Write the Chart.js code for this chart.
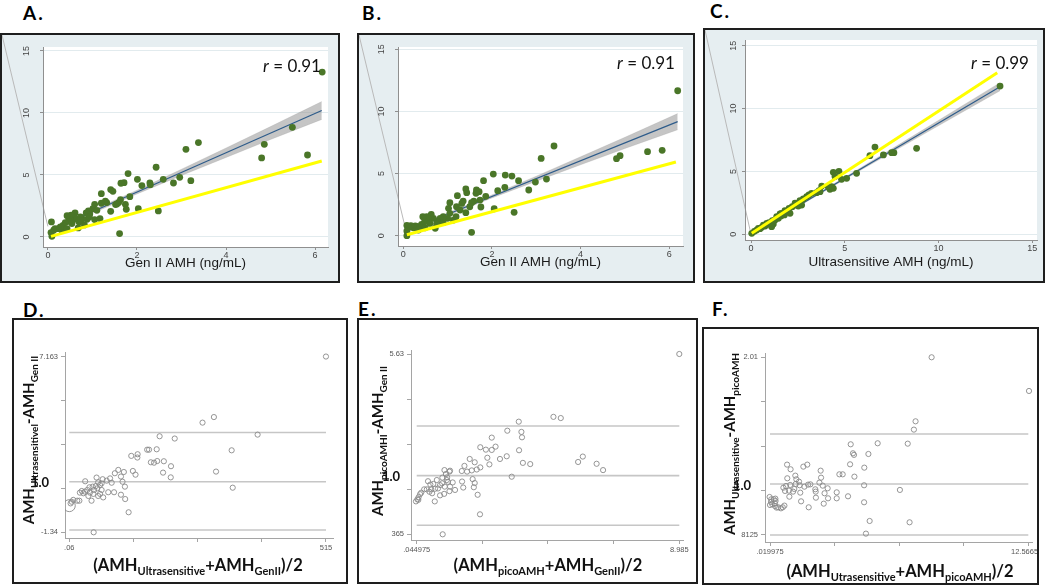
<!DOCTYPE html>
<html>
<head>
<meta charset="utf-8">
<script src="https://cdn.jsdelivr.net/npm/chart.js@4.4.0/dist/chart.umd.min.js"></script>
<style>
body { margin: 0; width: 1050px; height: 585px; position: relative; overflow: hidden; background: #fff; }
.frame { position: absolute; border: 2px solid #1e1e1e; box-sizing: border-box; }
.frame canvas { position: absolute; left: 0; top: 0; }
.lbl { position: absolute; white-space: nowrap; transform: translate(-50%, -50%); color: #111; }
.letter { position: absolute; font: bold 19px Lato, sans-serif; line-height: 1; letter-spacing: 2px; color: #000; }
.rr { font: 17px Lato, sans-serif; }
.ttl { font: bold 16.5px Lato, sans-serif; }
.ttl sub { font-size: 11px; vertical-align: -4px; line-height: 0; }
.yt { font-size: 15px; transform: translate(-50%, -50%) rotate(-90deg); }
.yt sub { font-size: 10px; }
.one { font: bold 13px Lato, sans-serif; }
</style>
</head>
<body>

<div class="letter" style="left:23px;top:3px">A.</div>
<div class="letter" style="left:362px;top:3px">B.</div>
<div class="letter" style="left:710px;top:1px">C.</div>
<div class="letter" style="left:23px;top:300px">D.</div>
<div class="letter" style="left:358px;top:299px">E.</div>
<div class="letter" style="left:712px;top:299px">F.</div>

<div class="frame" style="left:0;top:33px;width:340px;height:250px"><canvas id="cA" width="336" height="246"></canvas></div>
<div class="frame" style="left:357px;top:33px;width:338px;height:250px"><canvas id="cB" width="334" height="246"></canvas></div>
<div class="frame" style="left:703px;top:28px;width:342px;height:255px"><canvas id="cC" width="338" height="251"></canvas></div>
<div class="frame" style="left:12px;top:318px;width:336px;height:266px"><canvas id="cD" width="332" height="262"></canvas></div>
<div class="frame" style="left:357px;top:318px;width:341px;height:266px"><canvas id="cE" width="337" height="262"></canvas></div>
<div class="frame" style="left:702px;top:327px;width:337px;height:258px"><canvas id="cF" width="333" height="254"></canvas></div>

<div class="lbl rr" style="left:292px;top:65px"><i>r</i> = 0.91</div>
<div class="lbl rr" style="left:646px;top:62px"><i>r</i> = 0.91</div>
<div class="lbl rr" style="left:1000px;top:62px"><i>r</i> = 0.99</div>

<div class="lbl ttl yt" style="left:28px;top:440px">AMH<sub>Ultrasensitivel</sub>-AMH<sub>Gen II</sub></div>
<div class="lbl ttl yt" style="left:377px;top:441px">AMH<sub>picoAMHI</sub>-AMH<sub>Gen II</sub></div>
<div class="lbl ttl yt" style="left:729px;top:444px">AMH<sub>Ultrasensitive</sub>-AMH<sub>picoAMH</sub></div>
<div class="lbl ttl" style="left:198px;top:565px">(AMH<sub>Ultrasensitive</sub>+AMH<sub>GenII</sub>)/2</div>
<div class="lbl ttl" style="left:548px;top:565px">(AMH<sub>picoAMH</sub>+AMH<sub>GenII</sub>)/2</div>
<div class="lbl ttl" style="left:900px;top:571px">(AMH<sub>Utrasensitive</sub>+AMH<sub>picoAMH</sub>)/2</div>
<div class="lbl one" style="left:40px;top:482px">1.0</div>
<div class="lbl one" style="left:391px;top:476px">1.0</div>
<div class="lbl one" style="left:742px;top:485px">1.0</div>

<script>
// ---- A: Gen II (x) vs Ultrasensitive (y)
var aX = [6.16, 5.49, 5.83, 4.86, 4.80, 3.38, 3.10, 3.21, 2.96, 2.82, 2.59, 2.43, 2.48, 2.29, 2.30, 2.11, 2.01, 2.03, 1.80, 1.71, 1.64, 1.84, 1.74, 1.76, 1.63, 1.59, 1.55, 1.52, 1.61, 1.41, 1.46, 1.41, 1.32, 1.29, 1.20, 1.20, 1.17, 1.05, 1.01, 1.05, 0.94, 0.91, 0.86, 0.82, 0.88, 0.77, 0.73, 0.70, 0.68, 0.64, 0.61, 0.57, 0.52, 0.50, 0.43, 0.46, 0.39, 0.34, 0.31, 0.28, 0.24, 0.16, 0.13, 0.08, 0.07, 0.09, 0.43, 0.54, 0.73, 0.93, 1.10];
var aY = [13.3, 8.84, 6.61, 7.47, 6.37, 7.61, 7.07, 4.54, 4.81, 4.35, 4.65, 5.62, 2.10, 4.35, 4.22, 4.14, 4.65, 2.28, 5.11, 4.38, 4.33, 3.25, 2.63, 2.23, 3.01, 2.77, 2.66, 2.61, 0.27, 3.82, 3.68, 2.07, 2.77, 2.88, 3.49, 2.72, 1.48, 2.63, 2.28, 1.40, 1.85, 2.10, 1.94, 0.97, 1.42, 1.45, 1.61, 1.21, 0.73, 1.42, 1.94, 1.61, 1.75, 1.40, 1.72, 1.26, 1.16, 0.94, 0.54, 0.81, 0.67, 0.67, 0.54, 1.21, 0.35, 0.05, 0.67, 1.08, 1.34, 1.61, 2.15];
var aFitX = [0.07, 6.15];
var aFitY = [0.56, 10.2];
var aBandX = [0.07, 1, 2, 3, 4, 5, 6.15];
var aBandHi = [0.71, 2.15, 3.77, 5.46, 7.17, 8.90, 10.92];
var aBandLo = [0.41, 1.91, 3.47, 4.96, 6.41, 7.86, 9.48];
var aIdX = [0.07, 6.15];
var aIdY = [0.05, 6.13];

// ---- B: Gen II (x) vs picoAMH (y)
var bX = [6.19, 5.84, 5.51, 4.89, 4.81, 3.40, 3.11, 3.23, 2.98, 2.83, 2.60, 2.45, 2.30, 2.29, 2.50, 2.13, 2.03, 2.05, 1.86, 1.81, 1.75, 1.71, 1.65, 1.64, 1.73, 1.59, 1.54, 1.43, 1.41, 1.41, 1.35, 1.32, 1.22, 1.20, 1.19, 1.05, 1.02, 1.05, 1.00, 0.90, 0.83, 0.77, 0.72, 0.68, 0.63, 0.57, 0.53, 0.48, 0.44, 0.41, 0.38, 0.32, 0.27, 0.23, 0.17, 0.12, 0.08, 0.08, 0.08, 1.54, 0.60, 0.75, 0.49, 0.90, 1.13, 1.28, 1.50, 0.34];
var bY = [11.67, 6.87, 6.76, 6.44, 6.20, 7.22, 6.22, 4.56, 4.32, 3.68, 4.43, 4.80, 4.88, 3.89, 1.88, 3.62, 4.96, 2.17, 3.17, 4.43, 2.31, 3.54, 3.68, 3.41, 2.87, 2.79, 2.66, 3.46, 3.76, 1.85, 2.79, 2.60, 3.22, 2.33, 1.53, 2.66, 2.20, 1.80, 1.40, 1.53, 1.40, 1.13, 0.59, 1.40, 1.72, 1.26, 1.53, 1.13, 1.53, 0.91, 0.72, 0.72, 0.78, 0.64, 0.80, 0.67, 0.83, 0.38, 0.0, 0.27, 0.99, 0.94, 0.64, 1.05, 1.26, 2.07, 2.33, 0.46];
var bFitX = [0.08, 6.19];
var bFitY = [0.40, 9.18];
var bBandX = [0.08, 1, 2, 3, 4, 5, 6.19];
var bBandHi = [0.55, 1.82, 3.28, 4.79, 6.35, 7.92, 9.83];
var bBandLo = [0.25, 1.62, 3.04, 4.39, 5.71, 7.02, 8.53];
var bIdX = [0.08, 6.15];
var bIdY = [0.08, 5.93];

// ---- C: Ultrasensitive (x) vs picoAMH (y)
var cX = [13.28, 8.83, 7.62, 7.50, 7.06, 6.61, 6.34, 5.63, 5.10, 4.83, 4.69, 4.39, 4.48, 4.30, 4.21, 4.39, 4.12, 3.77, 3.63, 3.50, 3.23, 2.79, 2.61, 2.70, 2.52, 2.20, 2.08, 1.81, 1.78, 1.60, 1.46, 1.28, 1.19, 1.07, 0.96, 0.84, 0.75, 0.57, 0.48, 0.30, 0.18, 0.04, 2.03, 1.63, 1.37, 1.14, 0.66, 0.39, 2.97, 2.35, 1.10, 1.55, 3.68, 3.09];
var cY = [11.79, 6.84, 6.49, 6.49, 6.31, 6.94, 6.25, 4.85, 4.45, 4.37, 5.01, 4.93, 4.59, 3.79, 3.58, 3.66, 3.79, 3.84, 3.47, 3.31, 3.26, 2.81, 2.68, 2.33, 2.25, 2.20, 1.67, 1.88, 1.54, 1.46, 1.27, 1.14, 0.82, 0.74, 0.93, 0.87, 0.66, 0.56, 0.45, 0.34, 0.24, 0.08, 2.07, 1.67, 1.40, 1.09, 0.74, 0.48, 3.00, 2.47, 0.61, 1.62, 3.39, 3.13];
var cFitX = [0.04, 13.28];
var cFitY = [0.08, 11.74];
var cBandX = [0.04, 3, 6, 9, 13.28];
var cBandHi = [0.16, 2.75, 5.43, 8.15, 12.06];
var cBandLo = [0.0, 2.63, 5.23, 7.79, 11.42];
var cIdX = [0.04, 13.13];
var cIdY = [0.08, 12.85];

var abcTicks = [0, 2, 4, 6];
var cXTicks = [0, 5, 10, 15];
var abcYTicks = [0, 5, 10, 15];

// ---- D: Bland-Altman, Ultrasensitive vs Gen II
var dMean = [9.75, 5.52, 5.09, 7.17, 6.19, 5.60, 6.23, 4.04, 3.47, 3.36, 3.07, 3.00, 3.63, 3.38, 3.26, 3.14, 3.90, 3.60, 3.89, 2.64, 2.63, 2.40, 2.46, 2.56, 2.30, 2.17, 2.12, 2.01, 2.07, 2.16, 2.01, 1.91, 1.78, 1.60, 1.66, 1.75, 1.53, 1.47, 1.32, 1.28, 1.15, 1.28, 1.22, 1.12, 1.09, 1.06, 1.00, 0.98, 0.90, 0.84, 0.78, 0.74, 0.66, 0.65, 0.59, 0.53, 0.46, 0.44, 0.36, 0.21, 0.15, 0.11, 0.97, 1.15, 1.34, 0.82, 0.94, 1.22];
var dDiff = [7.17, 4.24, 3.97, 3.39, 2.63, 1.60, 0.82, 3.20, 3.31, 2.68, 2.66, 2.66, 2.10, 2.11, 2.03, 2.05, 1.86, 1.55, 1.32, 2.44, 2.28, 2.36, 1.63, 1.45, -0.37, 0.27, 1.58, 1.36, 1.11, 0.87, 0.48, 1.68, 1.52, 1.27, 1.06, 0.60, 0.60, 1.16, 1.23, 1.03, 1.08, 0.71, 0.52, 0.79, 1.31, 0.90, 0.71, -1.34, 0.19, 0.58, 0.42, 0.71, 1.13, 0.63, 0.55, 0.66, 0.58, 0.19, 0.19, 0.23, 0.14, 0.06, 0.52, 0.42, 0.35, 0.84, 0.87, 0.95];
var dHeapMean = [0.06];
var dHeapDiff = [-0.05];
var dLimits = [-1.23, 1.11, 3.49];
var dXTicks = [0.06, 2.483, 4.906, 7.329, 9.7515];
var dXLabels = ['.06', '', '', '', '515'];
var dYTicks = [-1.34, 0.786, 2.911, 5.037, 7.163];
var dYLabels = ['-1.34', '', '', '', '7.163'];

// ---- E: Bland-Altman, picoAMH vs Gen II
var eMean = [8.985, 4.70, 4.95, 3.52, 3.13, 3.61, 3.63, 2.60, 2.73, 2.60, 2.40, 2.21, 3.53, 3.11, 2.88, 2.45, 2.52, 3.66, 3.91, 5.70, 5.54, 6.17, 6.39, 3.28, 2.21, 2.09, 2.02, 1.85, 1.92, 1.76, 1.67, 1.58, 1.18, 1.16, 1.04, 0.99, 1.08, 0.92, 0.91, 1.00, 1.11, 1.16, 1.27, 1.35, 1.59, 1.63, 1.95, 2.02, 1.99, 2.12, 2.20, 0.93, 0.66, 0.67, 0.77, 0.84, 0.98, 0.54, 0.51, 0.43, 0.48, 0.57, 0.39, 0.30, 0.20, 0.16, 0.11, 0.07, 0.02, 0.10, 0.84, 0.61, 0.73, 1.07, 1.18];
var eDiff = [5.63, 3.54, 3.50, 3.38, 3.08, 3.04, 2.86, 2.85, 2.55, 2.44, 2.45, 2.53, 2.43, 2.23, 2.14, 2.18, 1.96, 2.01, 1.97, 2.22, 2.04, 1.98, 1.77, 1.55, 1.86, 1.79, 2.03, 2.14, 1.76, 1.72, 1.91, 1.74, 1.75, 1.72, 1.64, 1.77, 1.53, 1.52, 1.33, 1.22, 1.38, 1.07, 1.36, 1.11, 1.39, 1.19, 1.47, 1.34, 1.20, 0.95, 0.30, -0.365, 0.73, 1.15, 1.16, 0.93, 0.98, 1.13, 1.29, 1.40, 1.05, 1.00, 1.13, 1.13, 1.02, 0.97, 0.87, 0.80, 0.73, 0.78, 1.27, 1.31, 1.44, 1.44, 1.22];
var eLimits = [-0.066, 1.585, 3.237];
var eXTicks = [0.044975, 2.28, 4.515, 6.75, 8.985];
var eXLabels = ['.044975', '', '', '', '8.985'];
var eYTicks = [-0.365, 1.134, 2.633, 4.131, 5.63];
var eYLabels = ['365', '', '', '', '5.63'];

// ---- F: Bland-Altman, Ultrasensitive vs picoAMH
var fMean = [7.87, 12.60, 7.09, 7.01, 6.71, 5.25, 3.94, 4.05, 4.10, 4.80, 3.91, 4.60, 4.12, 4.59, 6.33, 6.80, 4.86, 4.68, 4.59, 3.81, 3.55, 3.39, 3.26, 3.26, 2.82, 2.84, 2.63, 2.67, 2.58, 2.48, 2.50, 2.42, 2.22, 2.24, 2.25, 1.98, 1.90, 1.87, 1.83, 1.64, 1.69, 1.53, 1.49, 1.46, 1.43, 1.30, 1.25, 1.20, 1.27, 1.14, 1.00, 0.96, 1.02, 0.85, 0.86, 0.80, 0.75, 0.67, 0.94, 0.72, 0.64, 0.55, 0.42, 0.34, 0.26, 0.28, 0.29, 0.26, 0.13, 0.07, 0.00, 0.08, 0.20, 0.02];
var fDiff = [2.01, 1.475, 0.993, 0.861, 0.638, 0.644, 0.628, 0.485, 0.46, 0.474, 0.31, 0.257, 0.114, -0.023, -0.097, -0.611, -0.59, -0.791, -0.293, -0.198, 0.151, 0.151, -0.135, -0.23, -0.071, -0.23, -0.315, -0.15, -0.029, 0.209, 0.098, 0.019, -0.087, -0.124, -0.22, -0.008, -0.373, -0.013, 0.305, 0.273, -0.045, -0.278, -0.14, -0.023, 0.035, 0.072, 0.13, -0.082, -0.002, -0.124, -0.018, -0.204, 0.231, 0.305, 0.088, -0.034, -0.113, -0.061, -0.108, -0.346, -0.373, -0.389, -0.373, -0.378, -0.31, -0.235, -0.272, -0.352, -0.325, -0.288, -0.209, -0.246, -0.246, -0.336];
var fLimits = [-0.8125, -0.002, 0.792];
var fXTicks = [0.019975, 3.1566, 6.2932, 9.4299, 12.5665];
var fXLabels = ['.019975', '', '', '', '12.5665\u2002\u2002'];
var fYTicks = [-0.8125, -0.1069, 0.5988, 1.3044, 2.01];
var fYLabels = ['8125', '', '', '', '2.01'];

function pts(xs, ys) {
    return xs.map(function (x, i) { return { x: x, y: ys[i] }; });
}

// background colours, stray corner line and rotated y labels (Stata look)
var stataLook = {
    id: 'stataLook',
    beforeDraw: function (chart, args, o) {
        var c = chart.ctx, a = chart.chartArea;
        c.save();
        c.fillStyle = o.outer;
        c.fillRect(0, 0, chart.width, chart.height);
        c.fillStyle = '#ffffff';
        c.fillRect(a.left, a.top, a.right - a.left, a.bottom - a.top);
        if (o.diag) {
            c.strokeStyle = '#b9b9b9';
            c.lineWidth = 1;
            c.beginPath();
            c.moveTo(0, 0);
            c.lineTo(chart.scales.x.getPixelForValue(o.diag[0]), chart.scales.y.getPixelForValue(o.diag[1]));
            c.stroke();
        }
        c.restore();
    },
    afterDraw: function (chart, args, o) {
        if (!o.rotY) return;
        var c = chart.ctx, s = chart.scales.y;
        c.save();
        c.fillStyle = '#444';
        c.font = '9px "Liberation Sans"';
        c.textAlign = 'center';
        c.textBaseline = 'middle';
        s.ticks.forEach(function (t) {
            c.save();
            c.translate(s.right - o.rotY, s.getPixelForValue(t.value));
            c.rotate(-Math.PI / 2);
            c.fillText(String(t.value), 0, 0);
            c.restore();
        });
        c.restore();
    }
};

function corrChart(id, o) {
    var axisGray = '#8f8f8f';
    return new Chart(document.getElementById(id), {
        type: 'scatter',
        data: {
            datasets: [
                { data: pts(o.idX, o.idY), showLine: true, borderColor: '#ffff00', borderWidth: 3, pointRadius: 0 },
                { data: pts(o.x, o.y), pointRadius: 3.4, backgroundColor: '#4a7628', borderWidth: 0 },
                { data: pts(o.fitX, o.fitY), showLine: true, borderColor: '#2d5b8a', borderWidth: 1.2, pointRadius: 0 },
                { data: pts(o.bandX, o.bandHi), showLine: true, borderColor: 'rgba(160,160,160,0.5)', borderWidth: 0.5, pointRadius: 0, fill: '+1', backgroundColor: 'rgba(150,150,150,0.55)' },
                { data: pts(o.bandX, o.bandLo), showLine: true, borderColor: 'rgba(160,160,160,0.5)', borderWidth: 0.5, pointRadius: 0 }
            ]
        },
        options: {
            responsive: false,
            animation: false,
            events: [],
            layout: { padding: { top: o.top, right: o.right, left: 0, bottom: 0 } },
            plugins: {
                legend: { display: false },
                tooltip: { enabled: false },
                stataLook: { outer: '#e6eef1', diag: o.diag, rotY: o.rotY }
            },
            scales: {
                x: {
                    type: 'linear', min: o.xMin, max: o.xMax,
                    afterBuildTicks: function (s) { s.ticks = o.xTicks.map(function (v) { return { value: v }; }); },
                    afterFit: function (s) { s.height = o.xH; s.paddingLeft = 0; s.paddingRight = 0; },
                    grid: { drawOnChartArea: false, tickLength: 3, tickColor: axisGray },
                    border: { color: axisGray },
                    ticks: { autoSkip: false, maxRotation: 0, padding: 0, color: '#444', font: { family: 'Liberation Sans', size: 9 } },
                    title: { display: true, text: o.xTitle, color: '#1a1a1a', font: { family: 'Liberation Sans', size: 13.5 }, padding: { top: 0, bottom: o.titlePad } }
                },
                y: {
                    type: 'linear', min: o.yMin, max: o.yMax,
                    afterBuildTicks: function (s) { s.ticks = abcYTicks.map(function (v) { return { value: v }; }); },
                    afterFit: function (s) { s.width = o.yW; s.paddingTop = 0; s.paddingBottom = 0; },
                    grid: { color: '#e2ebee', tickLength: 3, tickColor: axisGray },
                    border: { color: axisGray },
                    ticks: { display: false }
                }
            }
        },
        plugins: [stataLook]
    });
}

function baChart(id, o) {
    var axisGray = '#a5a5a5';
    var sets = [
        { data: pts(o.x, o.y), pointRadius: 2.6, backgroundColor: 'rgba(0,0,0,0)', borderColor: '#8a8a8a', borderWidth: 0.9 }
    ];
    if (o.heapX) {
        sets.push({ data: pts(o.heapX, o.heapY), pointRadius: 6, backgroundColor: 'rgba(0,0,0,0)', borderColor: '#8a8a8a', borderWidth: 0.9 });
    }
    o.limits.forEach(function (v) {
        sets.push({ data: pts([o.xTicks[0], o.xTicks[o.xTicks.length - 1]], [v, v]), showLine: true, borderColor: '#c6c6c6', borderWidth: 1.6, pointRadius: 0 });
    });
    var tickFont = { family: 'Liberation Sans', size: 7.5 };
    return new Chart(document.getElementById(id), {
        type: 'scatter',
        data: { datasets: sets },
        options: {
            responsive: false,
            animation: false,
            events: [],
            layout: { padding: { top: o.top, right: o.right, left: 0, bottom: 0 } },
            plugins: {
                legend: { display: false },
                tooltip: { enabled: false },
                stataLook: { outer: '#ffffff' }
            },
            scales: {
                x: {
                    type: 'linear', min: o.xMin, max: o.xMax,
                    afterBuildTicks: function (s) { s.ticks = o.xTicks.map(function (v) { return { value: v }; }); },
                    afterFit: function (s) { s.height = o.xH; s.paddingLeft = 0; s.paddingRight = 0; },
                    grid: { drawOnChartArea: false, tickLength: 4, tickColor: axisGray },
                    border: { color: axisGray },
                    ticks: { autoSkip: false, maxRotation: 0, padding: 1, color: '#555', font: tickFont,
                        callback: function (v, i) { return o.xLabels[i]; } }
                },
                y: {
                    type: 'linear', min: o.yMin, max: o.yMax,
                    afterBuildTicks: function (s) { s.ticks = o.yTicks.map(function (v) { return { value: v }; }); },
                    afterFit: function (s) { s.width = o.yW; s.paddingTop = 0; s.paddingBottom = 0; },
                    grid: { drawOnChartArea: false, tickLength: 4, tickColor: axisGray },
                    border: { color: axisGray },
                    ticks: { autoSkip: false, padding: 3, color: '#555', font: tickFont,
                        callback: function (v, i) { return o.yLabels[i]; } }
                }
            }
        },
        plugins: [stataLook]
    });
}

corrChart('cA', {
    x: aX, y: aY, fitX: aFitX, fitY: aFitY, bandX: aBandX, bandHi: aBandHi, bandLo: aBandLo, idX: aIdX, idY: aIdY,
    xMin: -0.11, xMax: 6.29, yMin: -0.81, yMax: 15.32, xTicks: abcTicks,
    top: 12, right: 10, yW: 41, xH: 34, titlePad: 10, rotY: 16.5, diag: [0.0, 0.85],
    xTitle: 'Gen II AMH (ng/mL)'
});
corrChart('cB', {
    x: bX, y: bY, fitX: bFitX, fitY: bFitY, bandX: bBandX, bandHi: bBandHi, bandLo: bBandLo, idX: bIdX, idY: bIdY,
    xMin: -0.12, xMax: 6.31, yMin: -0.83, yMax: 15.19, xTicks: abcTicks,
    top: 12, right: 10, yW: 39, xH: 35, titlePad: 11, rotY: 16.3, diag: [0.04, 0.7],
    xTitle: 'Gen II AMH (ng/mL)'
});
corrChart('cC', {
    x: cX, y: cY, fitX: cFitX, fitY: cFitY, bandX: cBandX, bandHi: cBandHi, bandLo: cBandLo, idX: cIdX, idY: cIdY,
    xMin: -0.32, xMax: 15.25, yMin: -0.45, yMax: 15.45, xTicks: cXTicks,
    top: 10, right: 6, yW: 40, xH: 41, titlePad: 11, rotY: 11, diag: [-0.05, 0.34],
    xTitle: 'Ultrasensitive AMH (ng/mL)'
});

baChart('cD', {
    x: dMean, y: dDiff, heapX: dHeapMean, heapY: dHeapDiff, limits: dLimits,
    xTicks: dXTicks, xLabels: dXLabels, yTicks: dYTicks, yLabels: dYLabels,
    xMin: -0.102, xMax: 10.016, yMin: -1.616, yMax: 7.39,
    top: 32, right: 13, yW: 51, xH: 44
});
baChart('cE', {
    x: eMean, y: eDiff, limits: eLimits,
    xTicks: eXTicks, xLabels: eXLabels, yTicks: eYTicks, yLabels: eYLabels,
    xMin: -0.149, xMax: 9.111, yMin: -0.554, yMax: 5.763,
    top: 30, right: 13, yW: 52, xH: 42
});
baChart('cF', {
    x: fMean, y: fDiff, limits: fLimits,
    xTicks: fXTicks, xLabels: fXLabels, yTicks: fYTicks, yLabels: fYLabels,
    xMin: -0.223, xMax: 12.746, yMin: -0.924, yMax: 2.078,
    top: 24, right: 5, yW: 61, xH: 41
});
</script>
</body>
</html>
